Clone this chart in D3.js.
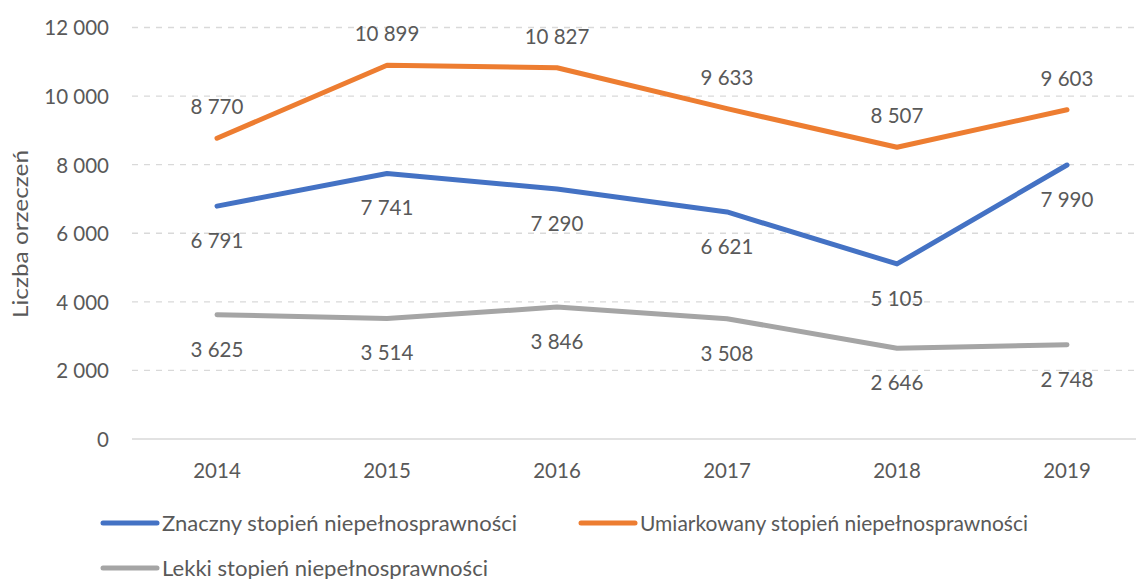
<!DOCTYPE html>
<html><head><meta charset="utf-8">
<script src="https://cdn.jsdelivr.net/npm/d3@7"></script>
<style>body{margin:0;background:#fff}svg{display:block}text{font-family:Lato,sans-serif;fill:#595959}</style>
</head><body><svg id="c" width="1136" height="579"></svg>
<script>
const years = ["2014","2015","2016","2017","2018","2019"];
const znaczny = [6791,7741,7290,6621,5105,7990];
const umiarkowany = [8770,10899,10827,9633,8507,9603];
const lekki = [3625,3514,3846,3508,2646,2748];
const seriesNames = ["Znaczny stopień niepełnosprawności","Umiarkowany stopień niepełnosprawności","Lekki stopień niepełnosprawności"];
const yTicks = [0,2000,4000,6000,8000,10000,12000];
const yTitle = "Liczba orzeczeń";

const series = [
  {name:seriesNames[0], values:znaczny, color:"#4472C4", pos:"below"},
  {name:seriesNames[1], values:umiarkowany, color:"#ED7D31", pos:"above"},
  {name:seriesNames[2], values:lekki, color:"#A5A5A5", pos:"below"}
];
const svg = d3.select("#c");
const x = d3.scaleBand().domain(years).range([132,1152]);
const y = d3.scaleLinear().domain([0,12000]).range([439,27.5]);
const fmt = v => d3.format(",")(v).replace(/,/g," ");
const fs = 20.5;

svg.append("g").selectAll("line").data(yTicks).join("line")
  .attr("x1",132).attr("x2",1152).attr("y1",d=>y(d)).attr("y2",d=>y(d))
  .attr("stroke","#D9D9D9").attr("stroke-width",1.3)
  .attr("stroke-dasharray",d=>d===0?null:"6,6");

const yAxis = svg.append("g").attr("transform","translate(109,0)")
  .call(d3.axisLeft(y).tickValues(yTicks).tickSize(0).tickPadding(0).tickFormat(fmt));
yAxis.select(".domain").remove();
yAxis.selectAll("text").style("font-size",fs+"px").style("font-family","Lato").attr("fill","#595959").attr("dy","0.36em");

const xAxis = svg.append("g").attr("transform","translate(0,463)")
  .call(d3.axisBottom(x).tickSize(0).tickPadding(0));
xAxis.select(".domain").remove();
xAxis.selectAll("text").style("font-size",fs+"px").style("font-family","Lato").attr("fill","#595959").attr("dy","0.72em");

svg.append("text").attr("transform","translate(28,234) rotate(-90)")
  .attr("text-anchor","middle").style("font-size","21px")
  .attr("textLength",168).attr("lengthAdjust","spacingAndGlyphs").text(yTitle);

const line = d3.line().x((d,i)=>x(years[i])+x.bandwidth()/2).y(d=>y(d));
series.forEach(s=>{
  svg.append("path").datum(s.values).attr("d",line).attr("fill","none")
    .attr("stroke",s.color).attr("stroke-width",5).attr("stroke-linecap","round").attr("stroke-linejoin","round");
});
series.forEach(s=>{
  svg.append("g").selectAll("text").data(s.values).join("text")
    .attr("x",(d,i)=>x(years[i])+x.bandwidth()/2)
    .attr("y",d=>s.pos==="above"? y(d)-31.5 : y(d)+34.5)
    .attr("dy","0.36em").attr("text-anchor","middle").style("font-size",fs+"px")
    .attr("fill","#404040").text(fmt);
});

const legPos = [[103,523,355],[581,523,388],[103,568,326]];
series.forEach((s,i)=>{
  const [lx,ly,tw] = legPos[i];
  const g = svg.append("g");
  g.append("line").attr("x1",lx).attr("x2",lx+54).attr("y1",ly).attr("y2",ly)
    .attr("stroke",s.color).attr("stroke-width",5).attr("stroke-linecap","round");
  g.append("text").attr("x",lx+59).attr("y",ly+8).style("font-size","21px")
    .attr("textLength",tw).attr("lengthAdjust","spacingAndGlyphs").text(s.name);
});
</script></body></html>
